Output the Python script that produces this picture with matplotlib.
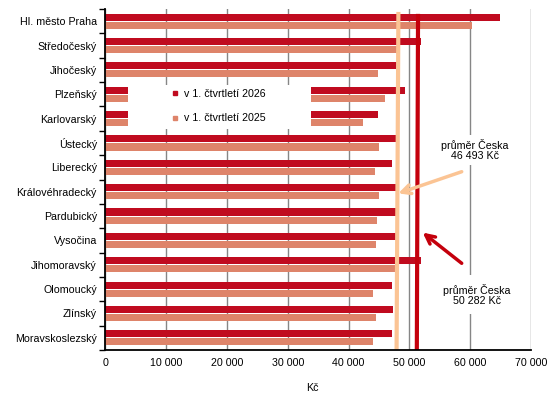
import matplotlib
matplotlib.use('Agg')
import matplotlib.pyplot as plt
import numpy as np
from matplotlib.patches import Rectangle
from matplotlib.lines import Line2D
from matplotlib.ticker import FuncFormatter, FixedLocator

plt.rcParams['font.family'] = ['Liberation Sans', 'DejaVu Sans']

# data (Kč)
regions = ["Hl. město Praha", "Středočeský", "Jihočeský", "Plzeňský", "Karlovarský",
           "Ústecký", "Liberecký", "Královéhradecký", "Pardubický", "Vysočina",
           "Jihomoravský", "Olomoucký", "Zlínský", "Moravskoslezský"]
wage_2026 = [64900, 51900, 48000, 49300, 44900, 48000, 47200, 47800, 47800, 47800,
             51900, 47200, 47300, 47200]
wage_2025 = [60300, 48000, 44900, 46000, 42400, 45000, 44400, 45000, 44700, 44500,
             48300, 44000, 44500, 44000]
label_2026 = "v 1. čtvrtletí 2026"
label_2025 = "v 1. čtvrtletí 2025"
# average lines as drawn (top x, bottom x)
avg_2025_line = [48200, 47900]
avg_2026_line = [51430, 51230]
avg_2025_text = "průměr Česka\n46 493 Kč"
avg_2026_text = "průměr Česka\n50 282 Kč"
xticks = [0, 10000, 20000, 30000, 40000, 50000, 60000, 70000]

c26 = '#C00B1F'
c25 = '#DE846A'
c_avg25 = '#FBC494'
c_avg26 = '#C4000C'

fig = plt.figure(figsize=(5.55, 4.0), dpi=100)
ax = fig.add_axes([0.1897, 0.125, 0.767, 0.8525])

y = np.arange(len(regions))
ax.barh(y - 0.165, wage_2026, height=0.29, color=c26, zorder=2)
ax.barh(y + 0.165, wage_2025, height=0.29, color=c25, zorder=2)

ax.set_xlim(0, 70000)
ax.set_ylim(len(regions) - 0.5, -0.5)

ax.xaxis.set_major_locator(FixedLocator(xticks))
ax.xaxis.set_major_formatter(FuncFormatter(lambda v, p: f"{v:,.0f}".replace(",", " ")))
ax.grid(axis='x', color='#868686', linewidth=1, zorder=0)
ax.set_axisbelow(True)

ax.set_yticks(y)
ax.set_yticklabels(regions)
ax.set_yticks(np.arange(-0.5, len(regions), 1), minor=True)
ax.tick_params(axis='y', which='major', length=0, pad=6, labelsize=7.7)
ax.tick_params(axis='y', which='minor', length=4, width=1, direction='out')
ax.tick_params(axis='x', length=0, pad=6, labelsize=7.7)

for s in ['top', 'right']:
    ax.spines[s].set_visible(False)
for s in ['left', 'bottom']:
    ax.spines[s].set_linewidth(1.3)
    ax.spines[s].set_zorder(6)

ax.set_xlabel("Kč", fontsize=7.7)
ax.xaxis.set_label_coords(0.487, -0.097)

# average lines
ax.plot(avg_2025_line, [-0.38, len(regions) - 0.5], color=c_avg25, linewidth=3, zorder=4,
        solid_capstyle='butt')
ax.plot(avg_2026_line, [-0.3, len(regions) - 0.5], color=c_avg26, linewidth=3, zorder=4,
        solid_capstyle='butt')

# white legend box covering the bars
ax.add_patch(Rectangle((0.0533, 0.648), 0.43, 0.13, transform=ax.transAxes,
                       facecolor='white', edgecolor='none', zorder=5))
handles = [Line2D([], [], linestyle='none', marker='s', markersize=3.2, color=c26),
           Line2D([], [], linestyle='none', marker='s', markersize=3.2, color=c25)]
leg = ax.legend(handles, [label_2026, label_2025], loc='upper left',
                bbox_to_anchor=(0.1536, 0.766), frameon=False, fontsize=7.7,
                handlelength=0.8, handletextpad=0.4, labelspacing=1.37, borderpad=0,
                borderaxespad=0, numpoints=1)
leg.set_zorder(7)

# annotations
ax.annotate("", xy=(48180, 7.07), xytext=(58610, 6.18),
            arrowprops=dict(arrowstyle='->', color=c_avg25, lw=2.5,
                            mutation_scale=16, shrinkA=0, shrinkB=0), zorder=5)
ax.annotate("", xy=(52200, 8.68), xytext=(58610, 9.94),
            arrowprops=dict(arrowstyle='->', color=c_avg26, lw=2.5,
                            mutation_scale=16, shrinkA=0, shrinkB=0), zorder=5)
ax.text(60800, 5.29, avg_2025_text, ha='center', va='center', fontsize=7.7,
        linespacing=1.05, zorder=5,
        bbox=dict(facecolor='white', edgecolor='none', pad=3))
ax.text(61080, 11.24, avg_2026_text, ha='center', va='center', fontsize=7.7,
        linespacing=1.05, zorder=5,
        bbox=dict(facecolor='white', edgecolor='none', pad=6))

fig.savefig('out.png', dpi=100)
